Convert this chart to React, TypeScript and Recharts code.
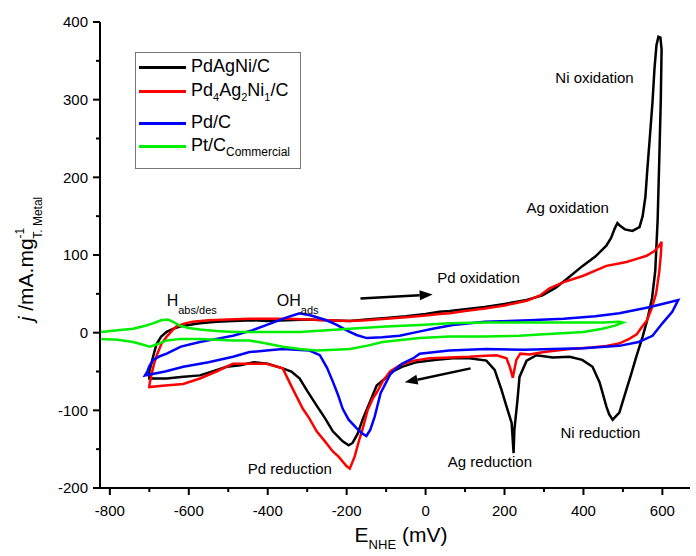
import React from "react";
import {
    LineChart,
    Line,
    XAxis,
    YAxis,
    Legend,
    ReferenceDot,
    ReferenceLine,
} from "recharts";

type Pt = [number, number];

// E (mV) vs j (mA/mg), each cycle as a closed loop
const pdAgNi: Pt[] = [
    [-700, -50], [-695, -40], [-690, -30], [-682, -15], [-670, -5], [-656, 1], [-640, 5], [-623, 8],
    [-600, 10], [-572, 12], [-530, 14], [-488, 15], [-440, 16], [-403, 15], [-350, 16], [-300, 17],
    [-250, 16], [-192, 15], [-150, 17], [-100, 19], [-50, 21], [0, 24], [35, 27], [61, 28], [100, 30],
    [150, 33], [200, 37], [256, 42], [296, 48], [330, 58], [360, 70], [398, 86], [430, 98], [458, 112],
    [470, 122], [480, 135], [486, 141], [492, 138], [505, 133], [524, 131], [542, 136], [550, 150],
    [557, 175], [562, 211], [568, 250], [575, 297], [580, 340], [585, 370], [590, 381], [595, 380],
    [598, 365], [596, 300], [592, 220], [588, 145], [582, 80], [574, 45], [562, 17], [550, -5],
    [534, -31], [520, -55], [509, -73], [491, -103], [474, -112], [465, -105], [458, -95], [441, -64],
    [423, -44], [397, -35], [365, -31], [322, -32], [281, -29], [256, -36], [238, -57], [233, -86],
    [225, -125], [223, -155], [218, -116], [205, -95], [192, -73], [175, -48], [154, -36], [111, -33],
    [69, -33], [28, -35], [-23, -38], [-60, -44], [-83, -50], [-105, -60], [-124, -68], [-140, -88],
    [-159, -111], [-172, -130], [-185, -142], [-195, -145], [-210, -140], [-235, -127], [-255, -110],
    [-276, -94], [-300, -75], [-319, -59], [-340, -50], [-362, -46], [-400, -40], [-435, -38],
    [-470, -42], [-504, -44], [-540, -50], [-572, -55], [-620, -57], [-656, -59], [-700, -59], [-700, -50],
];

const pd4Ag2Ni1: Pt[] = [
    [-700, -68], [-695, -55], [-688, -40], [-681, -29], [-670, -15], [-656, -5], [-640, 4], [-631, 8],
    [-610, 12], [-590, 14], [-550, 16], [-500, 17], [-446, 18], [-400, 18], [-350, 18], [-300, 17],
    [-250, 16], [-192, 15], [-150, 16], [-100, 18], [-50, 20], [0, 22], [35, 24], [61, 25], [100, 28],
    [150, 31], [200, 35], [256, 41], [290, 48], [314, 57], [350, 65], [398, 73], [430, 80], [458, 86],
    [490, 89], [509, 91], [535, 95], [560, 99], [580, 105], [592, 112], [598, 117], [596, 100],
    [592, 78], [584, 50], [572, 30], [560, 15], [549, 8], [535, -2], [516, -8], [490, -14], [458, -17],
    [420, -19], [365, -21], [300, -25], [263, -28], [240, -27], [230, -35], [221, -58], [214, -45],
    [205, -33], [180, -29], [140, -30], [111, -31], [60, -32], [10, -33], [-30, -36], [-66, -42],
    [-90, -50], [-109, -63], [-125, -78], [-134, -85], [-147, -100], [-160, -125], [-167, -136],
    [-180, -160], [-192, -175], [-200, -172], [-220, -160], [-235, -153], [-255, -140], [-276, -127],
    [-295, -110], [-311, -98], [-337, -72], [-362, -46], [-403, -40], [-446, -40], [-488, -40],
    [-530, -50], [-572, -59], [-614, -66], [-660, -68], [-700, -70], [-700, -68],
];

const pdC: Pt[] = [
    [-705, -50], [-700, -43], [-690, -35], [-672, -30], [-656, -27], [-620, -18], [-572, -12],
    [-530, -8], [-488, -4], [-440, 3], [-387, 13], [-350, 20], [-319, 25], [-290, 22], [-251, 16],
    [-225, 10], [-200, 3], [-175, -3], [-149, -7], [-110, -6], [-66, -4], [-20, 1], [18, 5], [69, 10],
    [150, 14], [263, 16], [350, 18], [430, 21], [491, 25], [560, 32], [600, 37], [640, 42], [625, 27],
    [600, 12], [575, -4], [540, -12], [491, -17], [400, -20], [322, -21], [250, -22], [154, -21],
    [60, -23], [-15, -27], [-28, -32], [-60, -40], [-89, -53], [-114, -78], [-129, -108], [-140, -125],
    [-150, -133], [-160, -130], [-175, -123], [-195, -112], [-210, -98], [-222, -80], [-235, -63],
    [-250, -45], [-268, -29], [-294, -23], [-362, -21], [-403, -23], [-446, -25], [-488, -31],
    [-550, -38], [-614, -44], [-660, -50], [-711, -55], [-705, -50],
];

const ptC: Pt[] = [
    [-822, 1], [-780, 3], [-741, 5], [-710, 9], [-691, 12], [-670, 16], [-653, 17], [-640, 14],
    [-623, 9], [-600, 6], [-572, 4], [-530, 2], [-488, 1], [-400, 1], [-319, 1], [-250, 3], [-192, 5],
    [-100, 8], [-15, 10], [61, 12], [150, 13], [238, 13], [350, 13], [450, 13], [491, 14], [500, 13],
    [480, 9], [448, 5], [400, 1], [300, -2], [238, -4], [150, -5], [61, -5], [-15, -7], [-109, -12],
    [-150, -17], [-192, -21], [-230, -22], [-276, -23], [-319, -21], [-362, -18], [-403, -14],
    [-446, -10], [-488, -10], [-530, -9], [-572, -8], [-620, -8], [-656, -10], [-680, -15], [-699, -18],
    [-720, -15], [-741, -12], [-780, -9], [-822, -8],
];

const xTicks = [-800, -700, -600, -500, -400, -300, -200, -100, 0, 100, 200, 300, 400, 500, 600];
const yTicks = [-200, -150, -100, -50, 0, 50, 100, 150, 200, 250, 300, 350, 400];

// annotation text anchors (E, j)
const notes = [
    { x: 428, y: 328, main: "Ni oxidation" },
    { x: 360, y: 161, main: "Ag oxidation" },
    { x: 134, y: 71, main: "Pd oxidation" },
    { x: -344, y: -175, main: "Pd reduction" },
    { x: 163, y: -166, main: "Ag reduction" },
    { x: 443, y: -129, main: "Ni reduction" },
];
const subNotes = [
    { x: -656, y: 42, main: "H", sub: "abs/des" },
    { x: -377, y: 42, main: "OH", sub: "ads" },
];
const arrows = [
    { from: { x: -165, y: 44 }, to: { x: 18, y: 49 } },
    { from: { x: 114, y: -46 }, to: { x: -53, y: -64 } },
];

const toRows = (pts: Pt[]) => pts.map(([x, y]) => ({ x, y }));

const series = [
    { name: "PdAgNi/C", color: "#000000", data: toRows(pdAgNi) },
    { name: "Pd4Ag2Ni1/C", color: "#ff0000", data: toRows(pd4Ag2Ni1) },
    { name: "Pd/C", color: "#0000ff", data: toRows(pdC) },
    { name: "Pt/C Commercial", color: "#00ee00", data: toRows(ptC) },
];

const FONT = "'Liberation Sans', Arial, sans-serif";

const XTick = (props: any) => {
    const { x, y, payload } = props;
    const major = payload.value % 200 === 0;
    return (
        <g>
            <line x1={x} x2={x} y1={y} y2={y + (major ? 7 : 4)} stroke="#000" strokeWidth={2}/>
            {major && (
                <text x={x} y={y + 28} textAnchor="middle" fontSize={15} fontFamily={FONT} fill="#000">
                    {payload.value}
                </text>
            )}
        </g>
    );
};

const YTick = (props: any) => {
    const { x, y, payload } = props;
    const major = payload.value % 100 === 0;
    return (
        <g>
            <line x1={x} x2={x - (major ? 7 : 4)} y1={y} y2={y} stroke="#000" strokeWidth={2}/>
            {major && (
                <text x={x - 12} y={y} dy="0.36em" textAnchor="end" fontSize={15} fontFamily={FONT} fill="#000">
                    {payload.value}
                </text>
            )}
        </g>
    );
};

const Arrow = (props: any) => {
    const { x1, y1, x2, y2 } = props;
    const a = Math.atan2(y2 - y1, x2 - x1);
    const L = 13, W = 5;
    const bx = x2 - L * Math.cos(a), by = y2 - L * Math.sin(a);
    const px = -Math.sin(a) * W, py = Math.cos(a) * W;
    return (
        <g>
            <line x1={x1} y1={y1} x2={bx} y2={by} stroke="#000" strokeWidth={2.5}/>
            <polygon points={`${x2},${y2} ${bx + px},${by + py} ${bx - px},${by - py}`} fill="#000"/>
        </g>
    );
};

const LegendBox = () => {
    const row = (color: string, top: number, label: React.ReactNode) => (
        <div style={{ position: "absolute", left: 3, top, height: 0 }}>
            <div style={{ position: "absolute", left: 0, top: -1.5, width: 47, height: 3, background: color }}/>
            <div style={{ position: "absolute", left: 52, top: -12, whiteSpace: "nowrap", fontSize: 18, lineHeight: "22px" }}>
                {label}
            </div>
        </div>
    );
    const sub = (t: string, s = 11) => <span style={{ fontSize: s, verticalAlign: -5, lineHeight: 0 }}>{t}</span>;
    return (
        <div style={{
            position: "relative", width: 164, height: 115, border: "1px solid #777",
            background: "#fff", fontFamily: FONT, color: "#000",
        }}>
            {row("#000000", 14, <>PdAgNi/C</>)}
            {row("#ff0000", 38, <>Pd{sub("4")}Ag{sub("2")}Ni{sub("1")}/C</>)}
            {row("#0000ff", 70, <>Pd/C</>)}
            {row("#00ee00", 93, <>Pt/C{sub("Commercial", 12)}</>)}
        </div>
    );
};

export default function App() {
    return (
        <div style={{ position: "absolute", left: 0, top: 0, width: 696, height: 556, background: "#fff" }}>
            <LineChart width={696} height={556} margin={{ top: 22, right: 6, bottom: 0, left: 0 }}>
                <XAxis
                    type="number"
                    dataKey="x"
                    domain={[-825, 670]}
                    ticks={xTicks}
                    interval={0}
                    height={68}
                    tickSize={0}
                    tickMargin={0}
                    tickLine={false}
                    tick={<XTick/>}
                    axisLine={{ stroke: "#000", strokeWidth: 2 }}
                    label={{
                        content: () => (
                            <text x={401} y={542} textAnchor="middle" fontSize={21} fontFamily={FONT} fill="#000">
                                E<tspan fontSize={13} dy={7}>NHE</tspan>
                                <tspan dy={-7}> (mV)</tspan>
                            </text>
                        ),
                    }}
                />
                <YAxis
                    type="number"
                    domain={[-200, 400]}
                    ticks={yTicks}
                    interval={0}
                    width={100}
                    tickSize={0}
                    tickMargin={0}
                    tickLine={false}
                    tick={<YTick/>}
                    axisLine={{ stroke: "#000", strokeWidth: 2 }}
                    label={{
                        content: () => (
                            <text
                                x={33}
                                y={259}
                                transform="rotate(-90, 33, 259)"
                                textAnchor="middle"
                                fontSize={21}
                                fontFamily={FONT}
                                fill="#000"
                            >
                                <tspan fontStyle="italic">j</tspan> /mA.mg
                                <tspan fontSize={12} dy={-9}>-1</tspan>
                                <tspan fontSize={12} dy={18} dx={-11}>T. Metal</tspan>
                            </text>
                        ),
                    }}
                />
                <Legend
                    layout="vertical"
                    align="center"
                    verticalAlign="middle"
                    wrapperStyle={{ left: 135, top: 52, width: 166 }}
                    content={() => <LegendBox/>}
                />
                {series.map(s => (
                    <Line
                        key={s.name}
                        name={s.name}
                        data={s.data}
                        dataKey="y"
                        type="linear"
                        stroke={s.color}
                        strokeWidth={2.5}
                        dot={false}
                        activeDot={false}
                        isAnimationActive={false}
                    />
                ))}
                {arrows.map((a, i) => (
                    <ReferenceLine key={"a" + i} segment={[a.from, a.to]} shape={<Arrow/>}/>
                ))}
                {notes.map(n => (
                    <ReferenceDot
                        key={n.main}
                        x={n.x}
                        y={n.y}
                        r={0}
                        shape={(p: any) => (
                            <text x={p.cx} y={p.cy} dy="0.35em" textAnchor="middle" fontSize={15} fontFamily={FONT} fill="#000">
                                {n.main}
                            </text>
                        )}
                    />
                ))}
                {subNotes.map(n => (
                    <ReferenceDot
                        key={n.main}
                        x={n.x}
                        y={n.y}
                        r={0}
                        shape={(p: any) => (
                            <text x={p.cx} y={p.cy} dy="0.35em" textAnchor="start" fontSize={16} fontFamily={FONT} fill="#000">
                                {n.main}
                                <tspan fontSize={11} dy={8}>{n.sub}</tspan>
                            </text>
                        )}
                    />
                ))}
            </LineChart>
        </div>
    );
}
